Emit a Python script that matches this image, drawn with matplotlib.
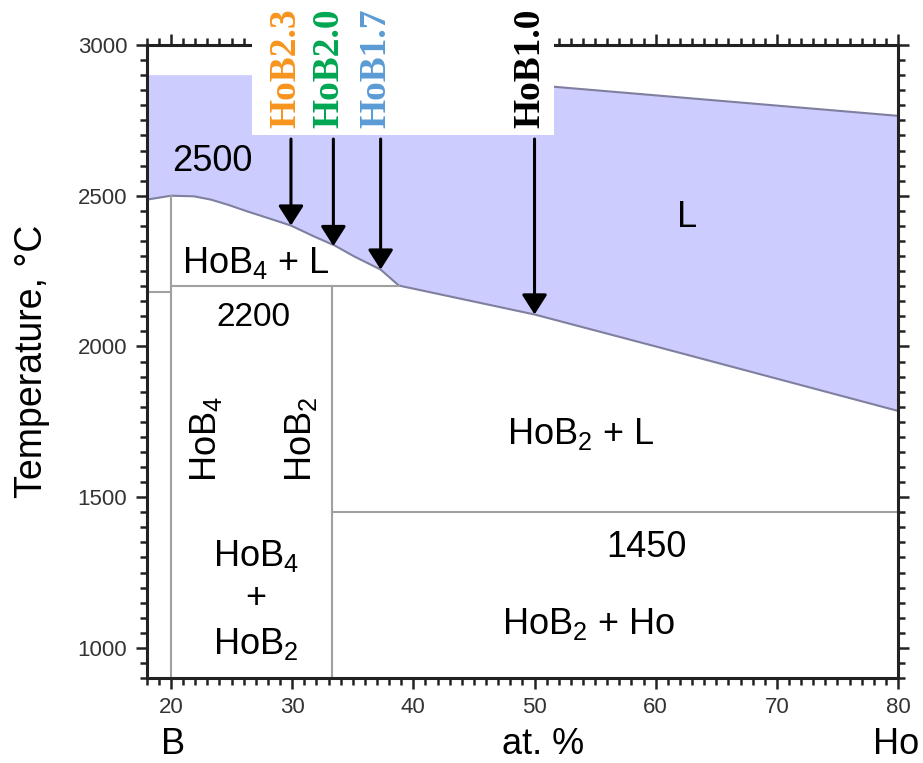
import matplotlib
matplotlib.use("Agg")
import matplotlib.pyplot as plt
from matplotlib.patches import Rectangle
from matplotlib.ticker import MultipleLocator
from matplotlib.transforms import blended_transform_factory

plt.rcParams['font.family'] = ['Liberation Sans', 'DejaVu Sans']
plt.rcParams['mathtext.fontset'] = 'custom'
plt.rcParams['mathtext.rm'] = 'Liberation Sans'
plt.rcParams['mathtext.it'] = 'Liberation Sans:italic'
plt.rcParams['mathtext.bf'] = 'Liberation Sans:bold'

# liquidus (at.% Ho, temperature C)
liq_x = [18, 20, 21.9, 23.3, 24.7, 26.3, 28.0, 29.9, 31.8, 33.5, 35.1, 37.3, 38.8, 50, 60, 70, 80]
liq_t = [2487, 2500, 2498, 2487, 2470, 2448, 2426, 2401, 2365, 2335, 2299, 2255, 2202, 2106, 2000, 1893, 1786]
# upper edge of the shaded liquid field
top_x = [18, 50, 50, 80]
top_t = [2900, 2900, 2867, 2765]

# phase boundaries
eut_left = ([18, 20], [2180, 2180])
peri_line = ([20, 38.8], [2200, 2200])
hob4_line = ([20, 20], [900, 2500])
hob2_line = ([33.3, 33.3], [900, 2200])
eut_right = ([33.3, 80], [1450, 1450])

# samples marked with arrows
samples = ['HoB2.3', 'HoB2.0', 'HoB1.7', 'HoB1.0']
sample_x = [29.9, 33.4, 37.3, 50.0]
sample_t = [2401, 2333, 2255, 2106]
sample_col = ['#F7941D', '#00A651', '#5B9BD5', 'black']

fig = plt.figure(figsize=(9.23, 7.63), dpi=100)
ax = fig.add_axes([0.159, 0.1114, 0.814, 0.8296])
ax.set_xlim(18, 80)
ax.set_ylim(900, 3000)

# liquid field
poly_x = liq_x + top_x[::-1]
poly_t = liq_t + top_t[::-1]
ax.fill(poly_x, poly_t, color='#CCCCFF', lw=0, zorder=1)
ax.plot(liq_x, liq_t, color='#7F7F9F', lw=1.5, zorder=2)
ax.plot(top_x[2:], top_t[2:], color='#7F7F9F', lw=1.5, zorder=2)

for xs, ts in [eut_left, peri_line, hob4_line, hob2_line, eut_right]:
    ax.plot(xs, ts, color='#A0A0A0', lw=1.5, zorder=2)

# axes styling
for s in ax.spines.values():
    s.set_linewidth(2.2)
    s.set_color('#222222')
ax.xaxis.set_major_locator(MultipleLocator(10))
ax.xaxis.set_minor_locator(MultipleLocator(1))
ax.yaxis.set_major_locator(MultipleLocator(500))
ax.yaxis.set_minor_locator(MultipleLocator(50))
ax.tick_params(which='both', direction='out', top=True, right=True, width=1.8, color='#222222')
ax.tick_params(which='major', length=8, labelsize=16, labelcolor='#333333', pad=6)
ax.tick_params(which='minor', length=5)

ax.set_ylabel('Temperature, °C', fontsize=27)
ax.yaxis.set_label_coords(-0.129, 0.5)

tr = blended_transform_factory(ax.transData, ax.transAxes)
ax.text(20.2, -0.105, 'B', transform=tr, fontsize=26, ha='center', va='center')
ax.text(50.7, -0.105, 'at. %', transform=tr, fontsize=26, ha='center', va='center')
ax.text(79.8, -0.105, 'Ho', transform=tr, fontsize=26, ha='center', va='center')

# phase labels
ax.text(23.4, 2613, '2500', fontsize=26, ha='center', va='center')
ax.text(27.0, 2278, r'HoB$_\mathrm{4}$ + L', fontsize=26, ha='center', va='center')
ax.text(26.8, 2096, '2200', fontsize=24, ha='center', va='center')
ax.text(22.9, 1692, r'HoB$_\mathrm{4}$', fontsize=26, ha='center', va='center', rotation=90)
ax.text(30.7, 1692, r'HoB$_\mathrm{2}$', fontsize=26, ha='center', va='center', rotation=90)
ax.text(53.8, 1709, r'HoB$_\mathrm{2}$ + L', fontsize=26, ha='center', va='center')
ax.text(62.6, 2427, 'L', fontsize=26, ha='center', va='center')
ax.text(59.2, 1334, '1450', fontsize=26, ha='center', va='center')
ax.text(54.5, 1079, r'HoB$_\mathrm{2}$ + Ho', fontsize=26, ha='center', va='center')
ax.text(27.0, 1305, r'HoB$_\mathrm{4}$', fontsize=26, ha='center', va='center')
ax.text(27.0, 1165, '+', fontsize=26, ha='center', va='center')
ax.text(27.0, 1013, r'HoB$_\mathrm{2}$', fontsize=26, ha='center', va='center')

# white box holding the sample names
ax.add_patch(Rectangle((26.7, 2702), 51.6 - 26.7, 600, facecolor='white',
                       edgecolor='none', clip_on=False, zorder=5))

for name, x, t, c in zip(samples, sample_x, sample_t, sample_col):
    ax.annotate('', xy=(x, t), xytext=(x, 2688),
                arrowprops=dict(arrowstyle='-|>,head_length=0.55,head_width=0.35',
                                color='black', lw=2.2, mutation_scale=22,
                                shrinkA=0, shrinkB=0), zorder=6)
    ax.text(x - 0.4, 2725, name, rotation=90, ha='center', va='bottom',
            fontsize=27, fontweight='bold', family='Liberation Serif',
            color=c, clip_on=False, zorder=6)

fig.savefig('out.png', dpi=100)
